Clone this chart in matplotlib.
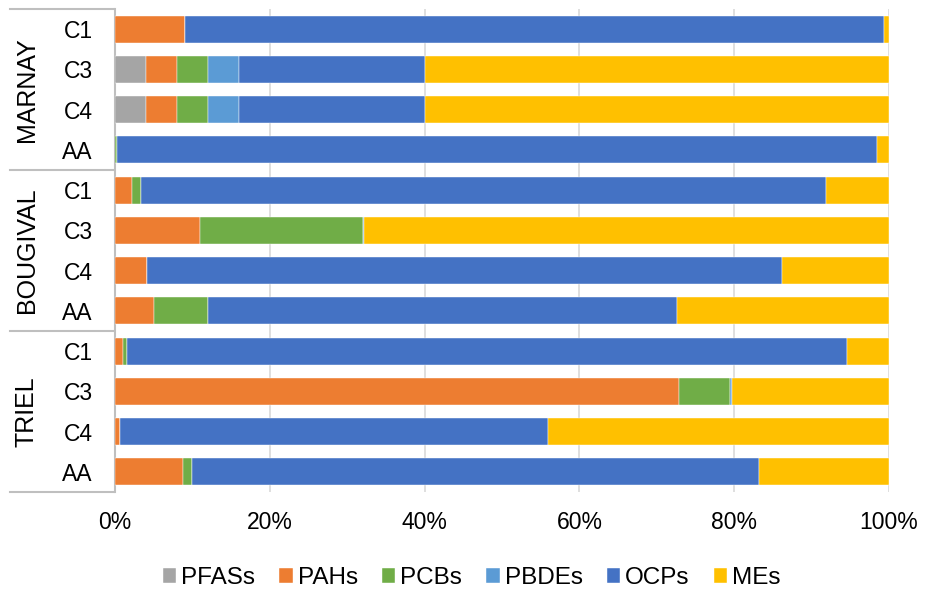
import matplotlib
matplotlib.use("Agg")
import matplotlib.pyplot as plt
from matplotlib.lines import Line2D
import numpy as np

plt.rcParams['font.family'] = ['Liberation Sans', 'DejaVu Sans']

groups = ["MARNAY", "BOUGIVAL", "TRIEL"]
samples = ["C1", "C3", "C4", "AA"]
series = ["PFASs", "PAHs", "PCBs", "PBDEs", "OCPs", "MEs"]
colors = ["#A5A5A5", "#ED7D31", "#70AD47", "#5B9BD5", "#4472C4", "#FFC000"]

PFAS = [0.0, 4.0, 4.0, 0.0, 0.0, 0.0, 0.0, 0.0, 0.0, 0.0, 0.0, 0.0]
PAH = [9.0, 4.0, 4.0, 0.0, 2.2, 11.0, 4.1, 5.1, 1.0, 72.9, 0.6, 8.8]
PCB = [0.0, 4.0, 4.0, 0.3, 1.1, 21.0, 0.0, 6.9, 0.5, 6.6, 0.0, 1.1]
PBDE = [0.0, 4.0, 4.0, 0.0, 0.0, 0.2, 0.0, 0.0, 0.0, 0.2, 0.0, 0.0]
OCP = [90.4, 24.0, 24.0, 98.1, 88.6, 0.0, 82.1, 60.6, 93.1, 0.0, 55.3, 73.3]
ME = [0.6, 60.0, 60.0, 1.6, 8.1, 67.8, 13.8, 27.4, 5.4, 20.3, 44.1, 16.8]

xticks = [0, 20, 40, 60, 80, 100]
xticklabels = ["0%", "20%", "40%", "60%", "80%", "100%"]

data = [PFAS, PAH, PCB, PBDE, OCP, ME]

W, H = 925, 599
fig = plt.figure(figsize=(W / 100, H / 100), dpi=100)
ax = fig.add_axes([115 / W, 1 - 492 / H, (889 - 115) / W, (492 - 9) / H])

n = len(groups) * len(samples)
y = np.arange(n)
left = np.zeros(n)
for vals, c, name in zip(data, colors, series):
    v = np.array(vals)
    ax.barh(y, v, left=left, height=0.67, color=c, label=name,
            edgecolor='white', linewidth=0.3, zorder=3)
    left += v

ax.set_xlim(0, 100)
ax.set_ylim(n - 0.5, -0.5)
ax.set_yticks(y)
ax.set_yticklabels(samples * len(groups), fontsize=16.5)
ax.set_xticks(xticks)
ax.set_xticklabels(xticklabels, fontsize=16.5)
ax.tick_params(axis='y', length=0, pad=16)
ax.tick_params(axis='x', length=0, pad=14)
ax.grid(axis='x', color='#D9D9D9', linewidth=1.2, zorder=0)
for s in ['top', 'right', 'bottom']:
    ax.spines[s].set_visible(False)
ax.spines['left'].set_color('#BFBFBF')
ax.spines['left'].set_linewidth(1.5)

# group separators and labels
row_px = (492 - 9) / n
for gi, g in enumerate(groups):
    top = 9 + gi * 4 * row_px
    fig.add_artist(Line2D([10 / W, 114 / W], [1 - top / H, 1 - top / H],
                          color='#BFBFBF', linewidth=1.5))
    cy = top + 2 * row_px
    fig.text(27 / W, 1 - cy / H, g, rotation=90, ha='center', va='center', fontsize=18)
fig.add_artist(Line2D([10 / W, 114 / W], [1 - 492 / H, 1 - 492 / H],
                      color='#BFBFBF', linewidth=1.5))

fig.legend(loc='center', bbox_to_anchor=(0.51, 1 - 578 / H), ncol=6, frameon=False,
           fontsize=17.5, handlelength=0.55, handleheight=0.55, handletextpad=0.2,
           columnspacing=1.0)

fig.savefig("out.png", dpi=100)
